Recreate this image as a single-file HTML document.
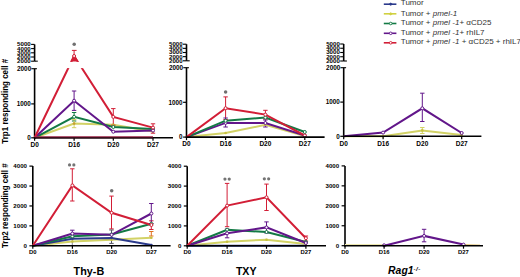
<!DOCTYPE html><html><head><meta charset="utf-8"><style>html,body{margin:0;padding:0;background:#fff;width:520px;height:277px;overflow:hidden}svg{display:block}</style></head><body>
<svg width="520" height="277" viewBox="0 0 520 277" font-family="'Liberation Sans', sans-serif">
<line x1="34.6" y1="44.4" x2="34.6" y2="61.2" stroke="#000" stroke-width="1.6" />
<line x1="31.1" y1="44.4" x2="34.6" y2="44.4" stroke="#000" stroke-width="1.1" />
<line x1="31.1" y1="48.6" x2="34.6" y2="48.6" stroke="#000" stroke-width="1.1" />
<line x1="31.1" y1="52.8" x2="34.6" y2="52.8" stroke="#000" stroke-width="1.1" />
<line x1="31.1" y1="57.0" x2="34.6" y2="57.0" stroke="#000" stroke-width="1.1" />
<line x1="31.1" y1="61.2" x2="34.6" y2="61.2" stroke="#000" stroke-width="1.1" />
<line x1="34.6" y1="61.2" x2="37.8" y2="61.2" stroke="#000" stroke-width="1.1" />
<text x="30.7" y="46.3" font-size="5.0" font-weight="bold" text-anchor="end" textLength="13.6" lengthAdjust="spacingAndGlyphs">5000</text>
<text x="30.7" y="50.5" font-size="5.0" font-weight="bold" text-anchor="end" textLength="13.6" lengthAdjust="spacingAndGlyphs">4000</text>
<text x="30.7" y="54.7" font-size="5.0" font-weight="bold" text-anchor="end" textLength="13.6" lengthAdjust="spacingAndGlyphs">3000</text>
<text x="30.7" y="58.9" font-size="5.0" font-weight="bold" text-anchor="end" textLength="13.6" lengthAdjust="spacingAndGlyphs">2000</text>
<text x="30.7" y="63.1" font-size="5.0" font-weight="bold" text-anchor="end" textLength="13.6" lengthAdjust="spacingAndGlyphs">2000</text>
<line x1="34.6" y1="68.7" x2="34.6" y2="138.6" stroke="#000" stroke-width="1.6" />
<line x1="31.4" y1="68.7" x2="37.0" y2="68.7" stroke="#000" stroke-width="1.1" />
<text x="31.2" y="70.9" font-size="6.4" font-weight="bold" text-anchor="end" fill="#000"  >2000</text>
<line x1="31.2" y1="103.9" x2="34.6" y2="103.9" stroke="#000" stroke-width="1.2" />
<text x="30.7" y="106.17" font-size="6.3" font-weight="bold" text-anchor="end" fill="#000"  >1000</text>
<line x1="31.2" y1="137.8" x2="34.6" y2="137.8" stroke="#000" stroke-width="1.2" />
<text x="30.7" y="140.07" font-size="6.3" font-weight="bold" text-anchor="end" fill="#000"  >0</text>
<polyline points="34.6,137.8 74.1,123.6 113.3,124.7 153.0,131.5" fill="none" stroke="#d2d266" stroke-width="2.0" stroke-linejoin="miter"/>
<polyline points="34.6,137.8 74.1,116.8 113.3,127.0 153.0,128.9" fill="none" stroke="#137a45" stroke-width="2.0" stroke-linejoin="miter"/>
<polyline points="34.6,137.8 74.1,100.7 113.3,131.7 153.0,130.6" fill="none" stroke="#62168a" stroke-width="2.0" stroke-linejoin="miter"/>
<polyline points="34.6,137.8 74.1,56.0 113.3,116.9 153.0,127.6" fill="none" stroke="#d21e36" stroke-width="2.0" stroke-linejoin="miter"/>
<rect x="36" y="61.9" width="80" height="6.2" fill="#fff"/>
<polygon points="70.3,61.4 74.2,54.0 78.4,61.4" fill="#d21e36"/>
<line x1="74.1" y1="50.4" x2="74.1" y2="55" stroke="#d21e36" stroke-width="1" />
<line x1="71.9" y1="50.4" x2="76.6" y2="50.4" stroke="#d21e36" stroke-width="1" />
<circle cx="74.2" cy="44.3" r="1.75" fill="#707070"/>
<line x1="74.1" y1="91.0" x2="74.1" y2="110.4" stroke="#62168a" stroke-width="1.0" />
<line x1="71.9" y1="91.0" x2="76.3" y2="91.0" stroke="#62168a" stroke-width="1.0" />
<line x1="71.9" y1="110.4" x2="76.3" y2="110.4" stroke="#62168a" stroke-width="1.0" />
<line x1="74.1" y1="112.5" x2="74.1" y2="121.0" stroke="#137a45" stroke-width="1.0" />
<line x1="71.9" y1="112.5" x2="76.3" y2="112.5" stroke="#137a45" stroke-width="1.0" />
<line x1="71.9" y1="121.0" x2="76.3" y2="121.0" stroke="#137a45" stroke-width="1.0" />
<line x1="74.1" y1="119.5" x2="74.1" y2="127.7" stroke="#d2d266" stroke-width="1.0" />
<line x1="71.9" y1="119.5" x2="76.3" y2="119.5" stroke="#d2d266" stroke-width="1.0" />
<line x1="71.9" y1="127.7" x2="76.3" y2="127.7" stroke="#d2d266" stroke-width="1.0" />
<line x1="113.3" y1="108.6" x2="113.3" y2="125.2" stroke="#d21e36" stroke-width="1.0" />
<line x1="111.1" y1="108.6" x2="115.5" y2="108.6" stroke="#d21e36" stroke-width="1.0" />
<line x1="111.1" y1="125.2" x2="115.5" y2="125.2" stroke="#d21e36" stroke-width="1.0" />
<line x1="153.0" y1="123.8" x2="153.0" y2="133.2" stroke="#d21e36" stroke-width="1.0" />
<line x1="150.8" y1="123.8" x2="155.2" y2="123.8" stroke="#d21e36" stroke-width="1.0" />
<line x1="150.8" y1="133.2" x2="155.2" y2="133.2" stroke="#d21e36" stroke-width="1.0" />
<circle cx="74.1" cy="123.6" r="1.3" fill="#c8a030"/>
<circle cx="113.3" cy="124.7" r="1.3" fill="#c8a030"/>
<circle cx="153.0" cy="131.5" r="1.3" fill="#c8a030"/>
<circle cx="74.1" cy="116.8" r="1.5" fill="#fff" stroke="#137a45" stroke-width="1"/>
<circle cx="113.3" cy="127.0" r="1.5" fill="#fff" stroke="#137a45" stroke-width="1"/>
<circle cx="153.0" cy="128.9" r="1.5" fill="#fff" stroke="#137a45" stroke-width="1"/>
<circle cx="74.1" cy="100.7" r="1.5" fill="#fff" stroke="#62168a" stroke-width="1"/>
<circle cx="113.3" cy="131.7" r="1.5" fill="#fff" stroke="#62168a" stroke-width="1"/>
<circle cx="153.0" cy="130.6" r="1.5" fill="#fff" stroke="#62168a" stroke-width="1"/>
<circle cx="74.1" cy="56.0" r="1.5" fill="#fff" stroke="#d21e36" stroke-width="1"/>
<circle cx="113.3" cy="116.9" r="1.5" fill="#fff" stroke="#d21e36" stroke-width="1"/>
<circle cx="153.0" cy="127.6" r="1.5" fill="#fff" stroke="#d21e36" stroke-width="1"/>
<line x1="33.85" y1="137.8" x2="173" y2="137.8" stroke="#000" stroke-width="1.6" />
<line x1="34.6" y1="137.8" x2="34.6" y2="140.8" stroke="#000" stroke-width="1.2" />
<text x="34.6" y="147.4" font-size="6.5" font-weight="bold" text-anchor="middle" fill="#000"  >D0</text>
<line x1="74.1" y1="137.8" x2="74.1" y2="140.8" stroke="#000" stroke-width="1.2" />
<text x="74.1" y="147.4" font-size="6.5" font-weight="bold" text-anchor="middle" fill="#000"  >D16</text>
<line x1="113.3" y1="137.8" x2="113.3" y2="140.8" stroke="#000" stroke-width="1.2" />
<text x="113.3" y="147.4" font-size="6.5" font-weight="bold" text-anchor="middle" fill="#000"  >D20</text>
<line x1="153.0" y1="137.8" x2="153.0" y2="140.8" stroke="#000" stroke-width="1.2" />
<text x="153.0" y="147.4" font-size="6.5" font-weight="bold" text-anchor="middle" fill="#000"  >D27</text>
<line x1="34.6" y1="137.8" x2="153.0" y2="137.8" stroke="#2a0612" stroke-width="1.5" />
<line x1="34.6" y1="136.7" x2="153.0" y2="136.7" stroke="#a03050" stroke-width="1.0" />
<line x1="186.5" y1="44.2" x2="186.5" y2="60.8" stroke="#000" stroke-width="1.6" />
<line x1="183.0" y1="44.2" x2="186.5" y2="44.2" stroke="#000" stroke-width="1.1" />
<line x1="183.0" y1="48.35" x2="186.5" y2="48.35" stroke="#000" stroke-width="1.1" />
<line x1="183.0" y1="52.5" x2="186.5" y2="52.5" stroke="#000" stroke-width="1.1" />
<line x1="183.0" y1="56.65" x2="186.5" y2="56.65" stroke="#000" stroke-width="1.1" />
<line x1="183.0" y1="60.8" x2="186.5" y2="60.8" stroke="#000" stroke-width="1.1" />
<line x1="186.5" y1="60.8" x2="189.7" y2="60.8" stroke="#000" stroke-width="1.1" />
<text x="182.6" y="46.1" font-size="5.0" font-weight="bold" text-anchor="end" textLength="13.6" lengthAdjust="spacingAndGlyphs">5000</text>
<text x="182.6" y="50.25" font-size="5.0" font-weight="bold" text-anchor="end" textLength="13.6" lengthAdjust="spacingAndGlyphs">4000</text>
<text x="182.6" y="54.4" font-size="5.0" font-weight="bold" text-anchor="end" textLength="13.6" lengthAdjust="spacingAndGlyphs">3000</text>
<text x="182.6" y="58.55" font-size="5.0" font-weight="bold" text-anchor="end" textLength="13.6" lengthAdjust="spacingAndGlyphs">2000</text>
<text x="182.6" y="62.7" font-size="5.0" font-weight="bold" text-anchor="end" textLength="13.6" lengthAdjust="spacingAndGlyphs">2000</text>
<line x1="186.5" y1="67.7" x2="186.5" y2="137.9" stroke="#000" stroke-width="1.6" />
<line x1="183.3" y1="67.7" x2="188.9" y2="67.7" stroke="#000" stroke-width="1.1" />
<text x="183.1" y="69.9" font-size="6.4" font-weight="bold" text-anchor="end" fill="#000"  >2000</text>
<line x1="183.1" y1="102.3" x2="186.5" y2="102.3" stroke="#000" stroke-width="1.2" />
<text x="182.6" y="104.57" font-size="6.3" font-weight="bold" text-anchor="end" fill="#000"  >1000</text>
<line x1="183.1" y1="137.1" x2="186.5" y2="137.1" stroke="#000" stroke-width="1.2" />
<text x="182.6" y="139.37" font-size="6.3" font-weight="bold" text-anchor="end" fill="#000"  >0</text>
<polyline points="186.5,137.1 225.6,133.0 265.4,124.8 304.8,136.0" fill="none" stroke="#d2d266" stroke-width="2.0" stroke-linejoin="miter"/>
<polyline points="186.5,137.1 225.6,122.9 265.4,123.0 304.8,135.5" fill="none" stroke="#62168a" stroke-width="2.0" stroke-linejoin="miter"/>
<polyline points="186.5,137.1 225.6,120.7 265.4,117.6 304.8,132.0" fill="none" stroke="#137a45" stroke-width="2.0" stroke-linejoin="miter"/>
<polyline points="186.5,137.1 225.6,108.2 265.4,114.6 304.8,135.5" fill="none" stroke="#d21e36" stroke-width="2.0" stroke-linejoin="miter"/>
<line x1="225.6" y1="96.9" x2="225.6" y2="119.5" stroke="#d21e36" stroke-width="1.0" />
<line x1="223.4" y1="96.9" x2="227.8" y2="96.9" stroke="#d21e36" stroke-width="1.0" />
<line x1="223.4" y1="119.5" x2="227.8" y2="119.5" stroke="#d21e36" stroke-width="1.0" />
<line x1="265.4" y1="110.3" x2="265.4" y2="119.0" stroke="#d21e36" stroke-width="1.0" />
<line x1="263.2" y1="110.3" x2="267.6" y2="110.3" stroke="#d21e36" stroke-width="1.0" />
<line x1="263.2" y1="119.0" x2="267.6" y2="119.0" stroke="#d21e36" stroke-width="1.0" />
<line x1="225.6" y1="118" x2="225.6" y2="127" stroke="#62168a" stroke-width="1.0" />
<line x1="223.4" y1="118" x2="227.8" y2="118" stroke="#62168a" stroke-width="1.0" />
<line x1="223.4" y1="127" x2="227.8" y2="127" stroke="#62168a" stroke-width="1.0" />
<line x1="265.4" y1="120" x2="265.4" y2="127" stroke="#62168a" stroke-width="1.0" />
<line x1="263.2" y1="120" x2="267.6" y2="120" stroke="#62168a" stroke-width="1.0" />
<line x1="263.2" y1="127" x2="267.6" y2="127" stroke="#62168a" stroke-width="1.0" />
<circle cx="225.6" cy="133.0" r="1.3" fill="#c8c040"/>
<circle cx="265.4" cy="124.8" r="1.3" fill="#c8c040"/>
<circle cx="304.8" cy="136.0" r="1.3" fill="#c8c040"/>
<circle cx="225.6" cy="122.9" r="1.5" fill="#fff" stroke="#62168a" stroke-width="1"/>
<circle cx="265.4" cy="123.0" r="1.5" fill="#fff" stroke="#62168a" stroke-width="1"/>
<circle cx="304.8" cy="135.5" r="1.5" fill="#fff" stroke="#62168a" stroke-width="1"/>
<circle cx="225.6" cy="120.7" r="1.5" fill="#fff" stroke="#137a45" stroke-width="1"/>
<circle cx="265.4" cy="117.6" r="1.5" fill="#fff" stroke="#137a45" stroke-width="1"/>
<circle cx="304.8" cy="132.0" r="1.5" fill="#fff" stroke="#137a45" stroke-width="1"/>
<circle cx="225.6" cy="108.2" r="1.5" fill="#fff" stroke="#d21e36" stroke-width="1"/>
<circle cx="265.4" cy="114.6" r="1.5" fill="#fff" stroke="#d21e36" stroke-width="1"/>
<circle cx="304.8" cy="135.5" r="1.5" fill="#fff" stroke="#d21e36" stroke-width="1"/>
<circle cx="225.6" cy="91.9" r="1.75" fill="#707070"/>
<line x1="185.75" y1="137.1" x2="324.6" y2="137.1" stroke="#000" stroke-width="1.6" />
<line x1="186.5" y1="137.1" x2="186.5" y2="140.1" stroke="#000" stroke-width="1.2" />
<text x="186.5" y="146.4" font-size="6.5" font-weight="bold" text-anchor="middle" fill="#000"  >D0</text>
<line x1="225.6" y1="137.1" x2="225.6" y2="140.1" stroke="#000" stroke-width="1.2" />
<text x="225.6" y="146.4" font-size="6.5" font-weight="bold" text-anchor="middle" fill="#000"  >D16</text>
<line x1="265.4" y1="137.1" x2="265.4" y2="140.1" stroke="#000" stroke-width="1.2" />
<text x="265.4" y="146.4" font-size="6.5" font-weight="bold" text-anchor="middle" fill="#000"  >D20</text>
<line x1="304.8" y1="137.1" x2="304.8" y2="140.1" stroke="#000" stroke-width="1.2" />
<text x="304.8" y="146.4" font-size="6.5" font-weight="bold" text-anchor="middle" fill="#000"  >D27</text>
<line x1="343.7" y1="44.0" x2="343.7" y2="61.0" stroke="#000" stroke-width="1.6" />
<line x1="340.2" y1="44.0" x2="343.7" y2="44.0" stroke="#000" stroke-width="1.1" />
<line x1="340.2" y1="48.25" x2="343.7" y2="48.25" stroke="#000" stroke-width="1.1" />
<line x1="340.2" y1="52.5" x2="343.7" y2="52.5" stroke="#000" stroke-width="1.1" />
<line x1="340.2" y1="56.75" x2="343.7" y2="56.75" stroke="#000" stroke-width="1.1" />
<line x1="340.2" y1="61.0" x2="343.7" y2="61.0" stroke="#000" stroke-width="1.1" />
<line x1="343.7" y1="61.0" x2="346.9" y2="61.0" stroke="#000" stroke-width="1.1" />
<text x="339.8" y="45.9" font-size="5.0" font-weight="bold" text-anchor="end" textLength="13.6" lengthAdjust="spacingAndGlyphs">5000</text>
<text x="339.8" y="50.15" font-size="5.0" font-weight="bold" text-anchor="end" textLength="13.6" lengthAdjust="spacingAndGlyphs">4000</text>
<text x="339.8" y="54.4" font-size="5.0" font-weight="bold" text-anchor="end" textLength="13.6" lengthAdjust="spacingAndGlyphs">3000</text>
<text x="339.8" y="58.65" font-size="5.0" font-weight="bold" text-anchor="end" textLength="13.6" lengthAdjust="spacingAndGlyphs">2000</text>
<text x="339.8" y="62.9" font-size="5.0" font-weight="bold" text-anchor="end" textLength="13.6" lengthAdjust="spacingAndGlyphs">2000</text>
<line x1="343.7" y1="67.7" x2="343.7" y2="137.1" stroke="#000" stroke-width="1.6" />
<line x1="340.5" y1="67.7" x2="346.1" y2="67.7" stroke="#000" stroke-width="1.1" />
<text x="340.3" y="69.9" font-size="6.4" font-weight="bold" text-anchor="end" fill="#000"  >2000</text>
<line x1="340.3" y1="102.1" x2="343.7" y2="102.1" stroke="#000" stroke-width="1.2" />
<text x="339.8" y="104.37" font-size="6.3" font-weight="bold" text-anchor="end" fill="#000"  >1000</text>
<line x1="340.3" y1="136.3" x2="343.7" y2="136.3" stroke="#000" stroke-width="1.2" />
<text x="339.8" y="138.57" font-size="6.3" font-weight="bold" text-anchor="end" fill="#000"  >0</text>
<polyline points="343.7,136.3 383.1,136.3 422.3,130.4 461.7,135.0" fill="none" stroke="#d2d266" stroke-width="2.0" stroke-linejoin="miter"/>
<polyline points="343.7,136.3 383.1,132.6 422.3,108.3 461.7,133.0" fill="none" stroke="#62168a" stroke-width="2.0" stroke-linejoin="miter"/>
<line x1="422.3" y1="93.2" x2="422.3" y2="121.5" stroke="#62168a" stroke-width="1.0" />
<line x1="420.1" y1="93.2" x2="424.5" y2="93.2" stroke="#62168a" stroke-width="1.0" />
<line x1="420.1" y1="121.5" x2="424.5" y2="121.5" stroke="#62168a" stroke-width="1.0" />
<line x1="422.3" y1="127.5" x2="422.3" y2="133.5" stroke="#d2d266" stroke-width="1.0" />
<line x1="420.1" y1="127.5" x2="424.5" y2="127.5" stroke="#d2d266" stroke-width="1.0" />
<line x1="420.1" y1="133.5" x2="424.5" y2="133.5" stroke="#d2d266" stroke-width="1.0" />
<circle cx="383.1" cy="136.3" r="1.3" fill="#c8c040"/>
<circle cx="422.3" cy="130.4" r="1.3" fill="#c8c040"/>
<circle cx="461.7" cy="135.0" r="1.3" fill="#c8c040"/>
<circle cx="383.1" cy="132.6" r="1.5" fill="#fff" stroke="#62168a" stroke-width="1"/>
<circle cx="422.3" cy="108.3" r="1.5" fill="#fff" stroke="#62168a" stroke-width="1"/>
<circle cx="461.7" cy="133.0" r="1.5" fill="#fff" stroke="#62168a" stroke-width="1"/>
<line x1="342.95" y1="136.3" x2="481.4" y2="136.3" stroke="#000" stroke-width="1.6" />
<line x1="343.7" y1="136.3" x2="343.7" y2="139.3" stroke="#000" stroke-width="1.2" />
<text x="343.7" y="145.9" font-size="6.5" font-weight="bold" text-anchor="middle" fill="#000"  >D0</text>
<line x1="383.1" y1="136.3" x2="383.1" y2="139.3" stroke="#000" stroke-width="1.2" />
<text x="383.1" y="145.9" font-size="6.5" font-weight="bold" text-anchor="middle" fill="#000"  >D16</text>
<line x1="422.3" y1="136.3" x2="422.3" y2="139.3" stroke="#000" stroke-width="1.2" />
<text x="422.3" y="145.9" font-size="6.5" font-weight="bold" text-anchor="middle" fill="#000"  >D20</text>
<line x1="461.7" y1="136.3" x2="461.7" y2="139.3" stroke="#000" stroke-width="1.2" />
<text x="461.7" y="145.9" font-size="6.5" font-weight="bold" text-anchor="middle" fill="#000"  >D27</text>
<line x1="32.8" y1="166.12" x2="32.8" y2="246.6" stroke="#000" stroke-width="1.6" />
<line x1="29.4" y1="245.8" x2="32.8" y2="245.8" stroke="#000" stroke-width="1.2" />
<text x="27.0" y="248.01" font-size="6.15" font-weight="bold" text-anchor="end" fill="#000"  >0</text>
<line x1="29.4" y1="225.88" x2="32.8" y2="225.88" stroke="#000" stroke-width="1.2" />
<text x="27.0" y="228.09" font-size="6.15" font-weight="bold" text-anchor="end" fill="#000"  >1000</text>
<line x1="29.4" y1="205.96" x2="32.8" y2="205.96" stroke="#000" stroke-width="1.2" />
<text x="27.0" y="208.17" font-size="6.15" font-weight="bold" text-anchor="end" fill="#000"  >2000</text>
<line x1="29.4" y1="186.04" x2="32.8" y2="186.04" stroke="#000" stroke-width="1.2" />
<text x="27.0" y="188.25" font-size="6.15" font-weight="bold" text-anchor="end" fill="#000"  >3000</text>
<line x1="29.4" y1="166.12" x2="32.8" y2="166.12" stroke="#000" stroke-width="1.2" />
<text x="27.0" y="168.33" font-size="6.15" font-weight="bold" text-anchor="end" fill="#000"  >4000</text>
<polyline points="32.8,245.8 72.4,241.5 111.6,239.8 151.4,237.7" fill="none" stroke="#d2d266" stroke-width="2.0" stroke-linejoin="miter"/>
<polyline points="32.8,245.8 72.4,238.8 111.6,237.9 151.4,245.0" fill="none" stroke="#2b3a8c" stroke-width="2.0" stroke-linejoin="miter"/>
<polyline points="32.8,245.8 72.4,236.3 111.6,234.4 151.4,223.8" fill="none" stroke="#137a45" stroke-width="2.0" stroke-linejoin="miter"/>
<polyline points="32.8,245.8 72.4,233.6 111.6,234.8 151.4,213.5" fill="none" stroke="#62168a" stroke-width="2.0" stroke-linejoin="miter"/>
<polyline points="32.8,245.8 72.4,185.4 111.6,212.8 151.4,225.0" fill="none" stroke="#d21e36" stroke-width="2.0" stroke-linejoin="miter"/>
<line x1="72.3" y1="168.8" x2="72.3" y2="201.0" stroke="#d21e36" stroke-width="1.0" />
<line x1="70.1" y1="168.8" x2="74.5" y2="168.8" stroke="#d21e36" stroke-width="1.0" />
<line x1="70.1" y1="201.0" x2="74.5" y2="201.0" stroke="#d21e36" stroke-width="1.0" />
<line x1="111.5" y1="196.1" x2="111.5" y2="228.9" stroke="#d21e36" stroke-width="1.0" />
<line x1="109.3" y1="196.1" x2="113.7" y2="196.1" stroke="#d21e36" stroke-width="1.0" />
<line x1="109.3" y1="228.9" x2="113.7" y2="228.9" stroke="#d21e36" stroke-width="1.0" />
<line x1="151.3" y1="220.8" x2="151.3" y2="229.5" stroke="#d21e36" stroke-width="1.0" />
<line x1="149.1" y1="220.8" x2="153.5" y2="220.8" stroke="#d21e36" stroke-width="1.0" />
<line x1="149.1" y1="229.5" x2="153.5" y2="229.5" stroke="#d21e36" stroke-width="1.0" />
<line x1="72.3" y1="230.2" x2="72.3" y2="237.0" stroke="#62168a" stroke-width="1.0" />
<line x1="70.1" y1="230.2" x2="74.5" y2="230.2" stroke="#62168a" stroke-width="1.0" />
<line x1="70.1" y1="237.0" x2="74.5" y2="237.0" stroke="#62168a" stroke-width="1.0" />
<line x1="72.3" y1="237" x2="72.3" y2="245" stroke="#889" stroke-width="1.0" />
<line x1="151.3" y1="203.5" x2="151.3" y2="223.5" stroke="#62168a" stroke-width="1.0" />
<line x1="149.1" y1="203.5" x2="153.5" y2="203.5" stroke="#62168a" stroke-width="1.0" />
<line x1="149.1" y1="223.5" x2="153.5" y2="223.5" stroke="#62168a" stroke-width="1.0" />
<line x1="111.5" y1="230" x2="111.5" y2="243.4" stroke="#556" stroke-width="1.0" />
<line x1="109.3" y1="230" x2="113.7" y2="230" stroke="#556" stroke-width="1.0" />
<line x1="109.3" y1="243.4" x2="113.7" y2="243.4" stroke="#556" stroke-width="1.0" />
<line x1="151.3" y1="231.5" x2="151.3" y2="236" stroke="#e07020" stroke-width="1.0" />
<line x1="149.1" y1="231.5" x2="153.5" y2="231.5" stroke="#e07020" stroke-width="1.0" />
<line x1="149.1" y1="236" x2="153.5" y2="236" stroke="#e07020" stroke-width="1.0" />
<circle cx="72.4" cy="241.5" r="1.3" fill="#c8c040"/>
<circle cx="111.6" cy="239.8" r="1.3" fill="#c8c040"/>
<circle cx="151.4" cy="237.7" r="1.3" fill="#c8c040"/>
<circle cx="72.4" cy="238.8" r="1.3" fill="#2b3a8c"/>
<circle cx="111.6" cy="237.9" r="1.3" fill="#2b3a8c"/>
<circle cx="151.4" cy="245.0" r="1.3" fill="#2b3a8c"/>
<circle cx="72.4" cy="236.3" r="1.5" fill="#fff" stroke="#137a45" stroke-width="1"/>
<circle cx="111.6" cy="234.4" r="1.5" fill="#fff" stroke="#137a45" stroke-width="1"/>
<circle cx="151.4" cy="223.8" r="1.5" fill="#fff" stroke="#137a45" stroke-width="1"/>
<circle cx="72.4" cy="233.6" r="1.5" fill="#fff" stroke="#62168a" stroke-width="1"/>
<circle cx="111.6" cy="234.8" r="1.5" fill="#fff" stroke="#62168a" stroke-width="1"/>
<circle cx="151.4" cy="213.5" r="1.5" fill="#fff" stroke="#62168a" stroke-width="1"/>
<circle cx="72.4" cy="185.4" r="1.5" fill="#fff" stroke="#d21e36" stroke-width="1"/>
<circle cx="111.6" cy="212.8" r="1.5" fill="#fff" stroke="#d21e36" stroke-width="1"/>
<circle cx="151.4" cy="225.0" r="1.5" fill="#fff" stroke="#d21e36" stroke-width="1"/>
<circle cx="69.55" cy="164.9" r="1.6" fill="#747474"/>
<circle cx="73.85" cy="164.9" r="1.6" fill="#747474"/>
<circle cx="111.7" cy="190.7" r="1.75" fill="#707070"/>
<line x1="32.05" y1="245.8" x2="170.6" y2="245.8" stroke="#000" stroke-width="1.6" />
<line x1="32.8" y1="245.8" x2="32.8" y2="248.8" stroke="#000" stroke-width="1.2" />
<text x="32.8" y="253.8" font-size="5.9" font-weight="bold" text-anchor="middle" fill="#000"  >D0</text>
<line x1="72.4" y1="245.8" x2="72.4" y2="248.8" stroke="#000" stroke-width="1.2" />
<text x="72.4" y="253.8" font-size="5.9" font-weight="bold" text-anchor="middle" fill="#000"  >D16</text>
<line x1="111.6" y1="245.8" x2="111.6" y2="248.8" stroke="#000" stroke-width="1.2" />
<text x="111.6" y="253.8" font-size="5.9" font-weight="bold" text-anchor="middle" fill="#000"  >D20</text>
<line x1="151.4" y1="245.8" x2="151.4" y2="248.8" stroke="#000" stroke-width="1.2" />
<text x="151.4" y="253.8" font-size="5.9" font-weight="bold" text-anchor="middle" fill="#000"  >D27</text>
<line x1="187.2" y1="166.2" x2="187.2" y2="246.6" stroke="#000" stroke-width="1.6" />
<line x1="183.8" y1="245.8" x2="187.2" y2="245.8" stroke="#000" stroke-width="1.2" />
<text x="181.4" y="248.01" font-size="6.15" font-weight="bold" text-anchor="end" fill="#000"  >0</text>
<line x1="183.8" y1="225.9" x2="187.2" y2="225.9" stroke="#000" stroke-width="1.2" />
<text x="181.4" y="228.11" font-size="6.15" font-weight="bold" text-anchor="end" fill="#000"  >1000</text>
<line x1="183.8" y1="206.0" x2="187.2" y2="206.0" stroke="#000" stroke-width="1.2" />
<text x="181.4" y="208.21" font-size="6.15" font-weight="bold" text-anchor="end" fill="#000"  >2000</text>
<line x1="183.8" y1="186.1" x2="187.2" y2="186.1" stroke="#000" stroke-width="1.2" />
<text x="181.4" y="188.31" font-size="6.15" font-weight="bold" text-anchor="end" fill="#000"  >3000</text>
<line x1="183.8" y1="166.2" x2="187.2" y2="166.2" stroke="#000" stroke-width="1.2" />
<text x="181.4" y="168.41" font-size="6.15" font-weight="bold" text-anchor="end" fill="#000"  >4000</text>
<polyline points="187.2,245.8 227.1,241.8 266.5,239.7 305.9,244.0" fill="none" stroke="#d2d266" stroke-width="2.0" stroke-linejoin="miter"/>
<polyline points="187.2,245.8 227.1,245.8 266.5,245.8 305.9,245.8" fill="none" stroke="#2b3a8c" stroke-width="2.0" stroke-linejoin="miter"/>
<polyline points="187.2,245.8 227.1,229.7 266.5,232.0 305.9,242.0" fill="none" stroke="#137a45" stroke-width="2.0" stroke-linejoin="miter"/>
<polyline points="187.2,245.8 227.1,233.3 266.5,227.4 305.9,243.0" fill="none" stroke="#62168a" stroke-width="2.0" stroke-linejoin="miter"/>
<polyline points="187.2,245.8 227.1,205.6 266.5,197.3 305.9,238.2" fill="none" stroke="#d21e36" stroke-width="2.0" stroke-linejoin="miter"/>
<line x1="227.1" y1="183.4" x2="227.1" y2="226.7" stroke="#d21e36" stroke-width="1.0" />
<line x1="224.9" y1="183.4" x2="229.3" y2="183.4" stroke="#d21e36" stroke-width="1.0" />
<line x1="224.9" y1="226.7" x2="229.3" y2="226.7" stroke="#d21e36" stroke-width="1.0" />
<line x1="266.5" y1="184.1" x2="266.5" y2="210.5" stroke="#d21e36" stroke-width="1.0" />
<line x1="264.3" y1="184.1" x2="268.7" y2="184.1" stroke="#d21e36" stroke-width="1.0" />
<line x1="264.3" y1="210.5" x2="268.7" y2="210.5" stroke="#d21e36" stroke-width="1.0" />
<line x1="227.1" y1="229" x2="227.1" y2="237.8" stroke="#62168a" stroke-width="1.0" />
<line x1="224.9" y1="229" x2="229.3" y2="229" stroke="#62168a" stroke-width="1.0" />
<line x1="224.9" y1="237.8" x2="229.3" y2="237.8" stroke="#62168a" stroke-width="1.0" />
<line x1="266.5" y1="221.9" x2="266.5" y2="233" stroke="#62168a" stroke-width="1.0" />
<line x1="264.3" y1="221.9" x2="268.7" y2="221.9" stroke="#62168a" stroke-width="1.0" />
<line x1="264.3" y1="233" x2="268.7" y2="233" stroke="#62168a" stroke-width="1.0" />
<line x1="305.9" y1="236" x2="305.9" y2="241" stroke="#d21e36" stroke-width="1.0" />
<line x1="303.7" y1="236" x2="308.1" y2="236" stroke="#d21e36" stroke-width="1.0" />
<line x1="303.7" y1="241" x2="308.1" y2="241" stroke="#d21e36" stroke-width="1.0" />
<circle cx="227.1" cy="241.8" r="1.3" fill="#c8c040"/>
<circle cx="266.5" cy="239.7" r="1.3" fill="#c8c040"/>
<circle cx="305.9" cy="244.0" r="1.3" fill="#c8c040"/>
<circle cx="227.1" cy="229.7" r="1.5" fill="#fff" stroke="#137a45" stroke-width="1"/>
<circle cx="266.5" cy="232.0" r="1.5" fill="#fff" stroke="#137a45" stroke-width="1"/>
<circle cx="305.9" cy="242.0" r="1.5" fill="#fff" stroke="#137a45" stroke-width="1"/>
<circle cx="227.1" cy="233.3" r="1.5" fill="#fff" stroke="#62168a" stroke-width="1"/>
<circle cx="266.5" cy="227.4" r="1.5" fill="#fff" stroke="#62168a" stroke-width="1"/>
<circle cx="305.9" cy="243.0" r="1.5" fill="#fff" stroke="#62168a" stroke-width="1"/>
<circle cx="227.1" cy="205.6" r="1.5" fill="#fff" stroke="#d21e36" stroke-width="1"/>
<circle cx="266.5" cy="197.3" r="1.5" fill="#fff" stroke="#d21e36" stroke-width="1"/>
<circle cx="305.9" cy="238.2" r="1.5" fill="#fff" stroke="#d21e36" stroke-width="1"/>
<circle cx="224.95" cy="179.1" r="1.6" fill="#747474"/>
<circle cx="229.25" cy="179.1" r="1.6" fill="#747474"/>
<circle cx="264.35" cy="178.8" r="1.6" fill="#747474"/>
<circle cx="268.65" cy="178.8" r="1.6" fill="#747474"/>
<line x1="186.45" y1="245.8" x2="326.0" y2="245.8" stroke="#000" stroke-width="1.6" />
<line x1="187.2" y1="245.8" x2="187.2" y2="248.8" stroke="#000" stroke-width="1.2" />
<text x="187.2" y="253.5" font-size="5.9" font-weight="bold" text-anchor="middle" fill="#000"  >D0</text>
<line x1="227.1" y1="245.8" x2="227.1" y2="248.8" stroke="#000" stroke-width="1.2" />
<text x="227.1" y="253.5" font-size="5.9" font-weight="bold" text-anchor="middle" fill="#000"  >D16</text>
<line x1="266.5" y1="245.8" x2="266.5" y2="248.8" stroke="#000" stroke-width="1.2" />
<text x="266.5" y="253.5" font-size="5.9" font-weight="bold" text-anchor="middle" fill="#000"  >D20</text>
<line x1="305.9" y1="245.8" x2="305.9" y2="248.8" stroke="#000" stroke-width="1.2" />
<text x="305.9" y="253.5" font-size="5.9" font-weight="bold" text-anchor="middle" fill="#000"  >D27</text>
<line x1="345.0" y1="165.9" x2="345.0" y2="246.5" stroke="#000" stroke-width="1.6" />
<line x1="341.6" y1="245.7" x2="345.0" y2="245.7" stroke="#000" stroke-width="1.2" />
<text x="339.2" y="247.91" font-size="6.15" font-weight="bold" text-anchor="end" fill="#000"  >0</text>
<line x1="341.6" y1="225.75" x2="345.0" y2="225.75" stroke="#000" stroke-width="1.2" />
<text x="339.2" y="227.96" font-size="6.15" font-weight="bold" text-anchor="end" fill="#000"  >1000</text>
<line x1="341.6" y1="205.8" x2="345.0" y2="205.8" stroke="#000" stroke-width="1.2" />
<text x="339.2" y="208.01" font-size="6.15" font-weight="bold" text-anchor="end" fill="#000"  >2000</text>
<line x1="341.6" y1="185.85" x2="345.0" y2="185.85" stroke="#000" stroke-width="1.2" />
<text x="339.2" y="188.06" font-size="6.15" font-weight="bold" text-anchor="end" fill="#000"  >3000</text>
<line x1="341.6" y1="165.9" x2="345.0" y2="165.9" stroke="#000" stroke-width="1.2" />
<text x="339.2" y="168.11" font-size="6.15" font-weight="bold" text-anchor="end" fill="#000"  >4000</text>
<line x1="345" y1="244.7" x2="384.1" y2="244.7" stroke="#ece7b0" stroke-width="1.2" />
<polyline points="384.1,245.7 424.1,235.9 463.5,244.6" fill="none" stroke="#62168a" stroke-width="2"/>
<line x1="463.5" y1="244.6" x2="480" y2="245.1" stroke="#e0c070" stroke-width="1.0" />
<line x1="424.1" y1="229.3" x2="424.1" y2="241.8" stroke="#62168a" stroke-width="1.0" />
<line x1="421.9" y1="229.3" x2="426.3" y2="229.3" stroke="#62168a" stroke-width="1.0" />
<line x1="421.9" y1="241.8" x2="426.3" y2="241.8" stroke="#62168a" stroke-width="1.0" />
<circle cx="384.1" cy="245.3" r="1.5" fill="#fff" stroke="#62168a" stroke-width="1"/>
<circle cx="424.1" cy="235.9" r="1.5" fill="#fff" stroke="#62168a" stroke-width="1"/>
<circle cx="463.5" cy="244.6" r="1.5" fill="#fff" stroke="#62168a" stroke-width="1"/>
<line x1="344.25" y1="245.7" x2="483.0" y2="245.7" stroke="#000" stroke-width="1.6" />
<line x1="345.0" y1="245.7" x2="345.0" y2="248.7" stroke="#000" stroke-width="1.2" />
<text x="345.0" y="253.7" font-size="5.9" font-weight="bold" text-anchor="middle" fill="#000"  >D0</text>
<line x1="384.1" y1="245.7" x2="384.1" y2="248.7" stroke="#000" stroke-width="1.2" />
<text x="384.1" y="253.7" font-size="5.9" font-weight="bold" text-anchor="middle" fill="#000"  >D16</text>
<line x1="424.1" y1="245.7" x2="424.1" y2="248.7" stroke="#000" stroke-width="1.2" />
<text x="424.1" y="253.7" font-size="5.9" font-weight="bold" text-anchor="middle" fill="#000"  >D20</text>
<line x1="463.5" y1="245.7" x2="463.5" y2="248.7" stroke="#000" stroke-width="1.2" />
<text x="463.5" y="253.7" font-size="5.9" font-weight="bold" text-anchor="middle" fill="#000"  >D27</text>
<text transform="translate(7.6,143.7) rotate(-90) scale(0.89,1)" font-size="9" font-weight="bold" fill="#000">Trp1 responding cell #</text>
<text transform="translate(7.6,248.1) rotate(-90) scale(0.89,1)" font-size="9" font-weight="bold" fill="#000">Trp2 responding cell #</text>
<text x="88.9" y="275.0" font-size="10.8" font-weight="bold" text-anchor="middle" fill="#000"  >Thy-B</text>
<text x="246.2" y="275.1" font-size="10.6" font-weight="bold" text-anchor="middle" fill="#000"  >TXY</text>
<text x="388.1" y="273.6" font-size="10.4" font-weight="bold" font-style="italic" fill="#000">Rag1<tspan font-size="6.2" dy="-2.4" letter-spacing="0.45">-/-</tspan></text>
<line x1="383.8" y1="4.2" x2="396.4" y2="4.2" stroke="#2b3a8c" stroke-width="1.6" />
<polygon points="388.5,4.2 390.7,2.6 392.9,4.2 390.7,5.8" fill="#2b3a8c"/>
<text x="400.8" y="5.2" font-size="8.0" fill="#333" xml:space="preserve">Tumor</text>
<line x1="383.8" y1="13.8" x2="396.4" y2="13.8" stroke="#d0d040" stroke-width="1.6" />
<polygon points="388.5,13.8 390.7,12.2 392.9,13.8 390.7,15.4" fill="#d0d040"/>
<text x="400.8" y="15.9" font-size="8.0" fill="#333" xml:space="preserve">Tumor + <tspan font-style="italic">pmel-1</tspan></text>
<line x1="383.8" y1="23.5" x2="396.4" y2="23.5" stroke="#137a45" stroke-width="1.6" />
<circle cx="390.7" cy="23.5" r="1.3" fill="#fff" stroke="#137a45" stroke-width="0.9"/>
<text x="400.8" y="25.3" font-size="8.0" fill="#333" xml:space="preserve">Tumor + <tspan font-style="italic">pmel -1</tspan><tspan font-style="normal">+ αCD25</tspan></text>
<line x1="383.8" y1="33.3" x2="396.4" y2="33.3" stroke="#62168a" stroke-width="1.6" />
<circle cx="390.7" cy="33.3" r="1.3" fill="#fff" stroke="#62168a" stroke-width="0.9"/>
<text x="400.8" y="34.8" font-size="8.0" fill="#333" xml:space="preserve">Tumor + <tspan font-style="italic">pmel -1</tspan><tspan font-style="normal">+ rhIL7</tspan></text>
<line x1="383.8" y1="42.8" x2="396.4" y2="42.8" stroke="#d21e36" stroke-width="1.6" />
<circle cx="390.7" cy="42.8" r="1.3" fill="#fff" stroke="#d21e36" stroke-width="0.9"/>
<text x="400.8" y="44.0" font-size="8.0" fill="#333" xml:space="preserve">Tumor + <tspan font-style="italic">pmel -1</tspan><tspan font-style="normal"> + αCD25 + rhIL7</tspan></text>
</svg></body></html>
